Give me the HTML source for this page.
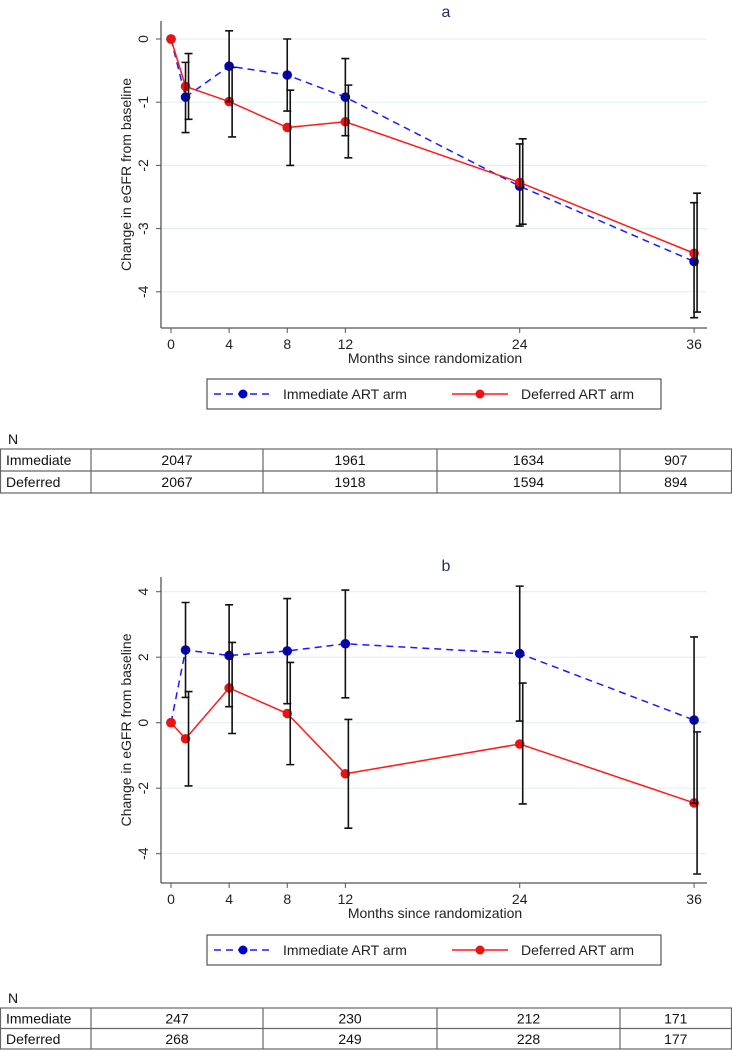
<!DOCTYPE html>
<html><head><meta charset="utf-8"><style>
html,body{margin:0;padding:0;background:#fff;}
svg{display:block;font-family:"Liberation Sans",Arial,sans-serif;}
</style></head><body>
<svg id="root" width="732" height="1050" viewBox="0 0 732 1050"></svg>
<script>
const months = [0,1,4,8,12,24,36];
const xTicks = [0,4,8,12,24,36];
// Panel a
const aImm = [0,-0.92,-0.43,-0.57,-0.92,-2.33,-3.52];
const aImmLo = [0,-1.48,-0.99,-1.14,-1.53,-2.96,-4.41];
const aImmHi = [0,-0.37,0.13,0.0,-0.31,-1.66,-2.59];
const aDef = [0,-0.75,-0.99,-1.40,-1.31,-2.27,-3.39];
const aDefLo = [0,-1.27,-1.55,-2.0,-1.88,-2.93,-4.32];
const aDefHi = [0,-0.23,-0.45,-0.81,-0.73,-1.58,-2.44];
const aYTicks = [0,-1,-2,-3,-4];
const aYTickLabels = ["0","-1","-2","-3","-4"];
// Panel b
const bImm = [0,2.22,2.05,2.19,2.41,2.11,0.08];
const bImmLo = [0,0.77,0.49,0.58,0.76,0.05,-2.46];
const bImmHi = [0,3.67,3.6,3.79,4.05,4.17,2.62];
const bDef = [0,-0.49,1.06,0.28,-1.56,-0.65,-2.45];
const bDefLo = [0,-1.93,-0.33,-1.28,-3.22,-2.48,-4.62];
const bDefHi = [0,0.95,2.45,1.84,0.1,1.21,-0.28];
const bYTicks = [4,2,0,-2,-4];
const bYTickLabels = ["4","2","0","-2","-4"];
// Tables
const tableRows = ["Immediate","Deferred"];
const aTable = [[2047,1961,1634,907],[2067,1918,1594,894]];
const bTable = [[247,230,212,171],[268,249,228,177]];

const NS="http://www.w3.org/2000/svg";
const root=document.getElementById('root');
function mk(tag,attrs,parent){const e=document.createElementNS(NS,tag);for(const k in attrs)e.setAttribute(k,attrs[k]);(parent||root).appendChild(e);return e;}

function panel(cfg){
  const g=mk('g',{});
  
  
  const x=m=>171+m*14.53;
  const y=v=>cfg.y0-v*cfg.unit;
  // gridlines
  cfg.yTicks.forEach((t,i)=>{
    const gl=mk('line',{x1:162,x2:707,y1:y(t),y2:y(t),stroke:'#e6efef','stroke-width':1.2},g);
    
    
    const tk=mk('line',{x1:156,x2:161,y1:y(t),y2:y(t),stroke:'#555','stroke-width':1},g);
    
    
    const tx=mk('text',{x:0,y:0,transform:`translate(148,${y(t)}) rotate(-90)`,'text-anchor':'middle','font-size':14,fill:'#222'},g);
    tx.textContent=cfg.yLabels[i];
    
    
  });
  // axes
  const ya=mk('line',{x1:161,x2:161,y1:cfg.top,y2:cfg.axisY,stroke:'#555','stroke-width':1.3},g);
  
  
  const xa=mk('line',{x1:161,x2:707,y1:cfg.axisY,y2:cfg.axisY,stroke:'#555','stroke-width':1.3},g);
  
  
  xTicks.forEach(t=>{
    const tk=mk('line',{x1:x(t),x2:x(t),y1:cfg.axisY,y2:cfg.axisY+5,stroke:'#555'},g);
    
    
    const tx=mk('text',{x:x(t),y:cfg.axisY+21,'text-anchor':'middle','font-size':14,fill:'#222'},g);
    tx.textContent=t;
    
    
  });
  const xt=mk('text',{x:435,y:cfg.axisY+35,'text-anchor':'middle','font-size':14,fill:'#222'},g);
  xt.textContent='Months since randomization';
  
  
  const yt=mk('text',{x:0,y:0,transform:`translate(131,${(cfg.top+cfg.axisY)/2}) rotate(-90)`,'text-anchor':'middle','font-size':14,fill:'#222'},g);
  yt.textContent='Change in eGFR from baseline';
  
  
  const ti=mk('text',{x:446,y:cfg.titleY,'text-anchor':'middle','font-size':16,fill:'#1e2d5c'},g);
  ti.textContent=cfg.title;
  
  
  // lines
  const lineFor=(vals,color,dash,name)=>{
    const p=mk('polyline',{points:months.map((m,i)=>x(m)+','+y(vals[i])).join(' '),fill:'none',stroke:color,'stroke-width':1.5,'stroke-dasharray':dash},g);
    
    
  };
  lineFor(cfg.imm,'#1a1aff','7,5','immediate-line');
  lineFor(cfg.def,'#ff1a1a','none','deferred-line');
  // error bars
  const bars=(lo,hi,off,name)=>{
    months.forEach((m,i)=>{
      if(m===0)return;
      const bx=x(m)+off;
      const b=mk('path',{d:`M${bx},${y(lo[i])}V${y(hi[i])}M${bx-4},${y(lo[i])}H${bx+4}M${bx-4},${y(hi[i])}H${bx+4}`,stroke:'#111','stroke-width':1.6,fill:'none'},g);
      
      
    });
  };
  // points
  const pts=(vals,color,name)=>{
    months.forEach((m,i)=>{
      const c=mk('circle',{cx:x(m),cy:y(vals[i]),r:4.8,fill:color},g);
      
      
    });
  };
  pts(cfg.imm,'#0000cc','immediate-point');
  pts(cfg.def,'#ee1111','deferred-point');
  bars(cfg.immLo,cfg.immHi,0,'immediate-error-bar');
  bars(cfg.defLo,cfg.defHi,3,'deferred-error-bar');
  // baseline marker tick
  // legend
  const lg=mk('g',{},g);
  
  
  mk('rect',{x:207,y:cfg.legY,width:454,height:30,fill:'#fff',stroke:'#555','stroke-width':1.2},lg);
  const ly=cfg.legY+15;
  const l1=mk('line',{x1:214,x2:272,y1:ly,y2:ly,stroke:'#1a1aff','stroke-width':1.5,'stroke-dasharray':'7,5'},lg);
  
  
  mk('circle',{cx:243,cy:ly,r:4.5,fill:'#0000cc'},lg);
  const t1=mk('text',{x:283,y:ly+5,'font-size':14,fill:'#222'},lg);
  t1.textContent='Immediate ART arm';
  
  
  const l2=mk('line',{x1:452,x2:508,y1:ly,y2:ly,stroke:'#ff1a1a','stroke-width':1.5},lg);
  
  
  mk('circle',{cx:480,cy:ly,r:4.5,fill:'#ee1111'},lg);
  const t2=mk('text',{x:521,y:ly+5,'font-size':14,fill:'#222'},lg);
  t2.textContent='Deferred ART arm';
  
  
  // table
  const tg=mk('g',{},g);
  
  
  const nt=mk('text',{x:8,y:cfg.tabY-5,'font-size':14,fill:'#111'},tg);
  nt.textContent='N';
  const cols=[0.5,91,263,437,620,731.5];
  const rowH=(cfg.tabB-cfg.tabY)/2;
  mk('rect',{x:0.5,y:cfg.tabY,width:731,height:cfg.tabB-cfg.tabY,fill:'none',stroke:'#666','stroke-width':1.2},tg);
  mk('line',{x1:0,x2:732,y1:cfg.tabY+rowH,y2:cfg.tabY+rowH,stroke:'#666','stroke-width':1.2},tg);
  cols.slice(1,5).forEach(c=>mk('line',{x1:c,x2:c,y1:cfg.tabY,y2:cfg.tabB,stroke:'#666','stroke-width':1.2},tg));
  tableRows.forEach((r,ri)=>{
    const ty=cfg.tabY+rowH*ri+rowH/2+5;
    const rl=mk('text',{x:6,y:ty,'font-size':14,fill:'#111'},tg);
    rl.textContent=r;
    
    
    cfg.table[ri].forEach((v,ci)=>{
      const ct=mk('text',{x:(cols[ci+1]+cols[ci+2])/2,y:ty,'text-anchor':'middle','font-size':14,fill:'#111'},tg);
      ct.textContent=v;
      
      
    });
  });
}
panel({name:'panel-a',title:'a',titleY:17,top:21,axisY:328,y0:39,unit:63.2,yTicks:aYTicks,yLabels:aYTickLabels,
  imm:aImm,immLo:aImmLo,immHi:aImmHi,def:aDef,defLo:aDefLo,defHi:aDefHi,legY:379,tabY:449,tabB:493,table:aTable});
panel({name:'panel-b',title:'b',titleY:571,top:577,axisY:883,y0:722.7,unit:32.75,yTicks:bYTicks,yLabels:bYTickLabels,
  imm:bImm,immLo:bImmLo,immHi:bImmHi,def:bDef,defLo:bDefLo,defHi:bDefHi,legY:935,tabY:1008,tabB:1049,table:bTable});
</script>
</body></html>
